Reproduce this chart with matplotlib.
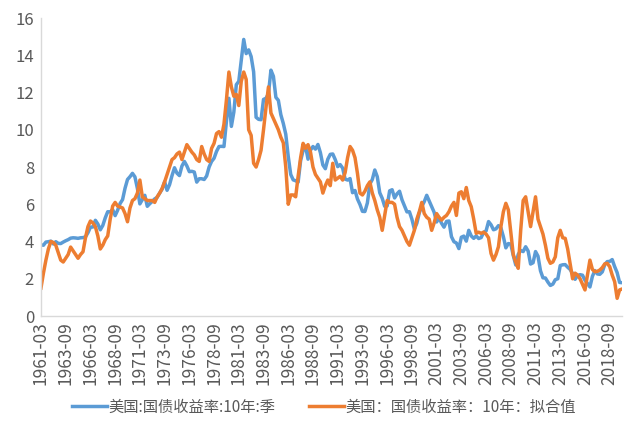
import numpy as np
import matplotlib
matplotlib.use("Agg")
import matplotlib.pyplot as plt

plt.rcParams['font.family'] = ['Noto Sans CJK SC', 'DejaVu Sans']

# quarterly, 1961-03 .. 2019-12
actual = [
    3.82, 3.80, 3.97, 3.99, 4.02, 3.87, 3.99, 3.90, 3.89, 3.97, 4.04, 4.10,
    4.18, 4.20, 4.19, 4.17, 4.20, 4.21, 4.25, 4.47, 4.77, 4.78, 5.14, 4.94,
    4.63, 4.86, 5.27, 5.60, 5.59, 5.71, 5.39, 5.68, 6.04, 6.25, 6.86, 7.33,
    7.48, 7.66, 7.47, 6.85, 6.02, 6.25, 6.48, 5.89, 6.03, 6.15, 6.29, 6.37,
    6.60, 6.81, 7.21, 6.75, 7.05, 7.54, 7.96, 7.67, 7.54, 8.05, 8.30, 8.06,
    7.75, 7.77, 7.73, 7.19, 7.37, 7.37, 7.33, 7.52, 8.00, 8.30, 8.47, 8.84,
    9.10, 9.11, 9.10, 10.45, 11.69, 10.18, 10.95, 12.42, 12.60, 13.75, 14.85, 14.09,
    14.29, 13.93, 13.11, 10.67, 10.56, 10.54, 11.63, 11.69, 11.94, 13.20, 12.87, 11.74,
    11.58, 10.81, 10.34, 9.76, 8.56, 7.60, 7.31, 7.26, 7.19, 8.34, 8.88, 9.12,
    8.42, 8.91, 9.10, 8.96, 9.21, 8.77, 8.11, 7.91, 8.42, 8.68, 8.70, 8.40,
    8.02, 8.13, 7.94, 7.35, 7.30, 7.38, 6.62, 6.74, 6.28, 5.99, 5.62, 5.61,
    6.07, 7.08, 7.33, 7.84, 7.48, 6.62, 6.32, 5.89, 5.91, 6.72, 6.78, 6.34,
    6.56, 6.70, 6.24, 5.91, 5.59, 5.60, 5.20, 4.67, 4.98, 5.54, 5.88, 6.14,
    6.48, 6.18, 5.89, 5.57, 5.05, 5.27, 4.98, 4.77, 5.08, 5.10, 4.26, 3.99,
    3.92, 3.62, 4.23, 4.29, 4.02, 4.60, 4.30, 4.17, 4.30, 4.16, 4.21, 4.49,
    4.57, 5.07, 4.90, 4.63, 4.68, 4.85, 4.73, 4.26, 3.66, 3.89, 3.86, 3.25,
    2.74, 3.31, 3.52, 3.46, 3.72, 3.49, 2.79, 2.86, 3.46, 3.21, 2.43, 2.05,
    2.04, 1.82, 1.64, 1.71, 1.95, 2.00, 2.71, 2.75, 2.76, 2.62, 2.50, 2.28,
    1.97, 2.17, 2.22, 2.19, 1.92, 1.75, 1.56, 2.13, 2.44, 2.26, 2.24, 2.37,
    2.76, 2.92, 2.93, 3.03, 2.65, 2.33, 1.80, 1.79,
]

fitted = [
    1.50, 2.30, 3.00, 3.60, 4.00, 3.95, 3.80, 3.40, 3.00, 2.90, 3.10, 3.30,
    3.70, 3.50, 3.30, 3.10, 3.30, 3.45, 4.20, 4.80, 5.10, 5.00, 4.80, 4.30,
    3.60, 3.80, 4.10, 4.30, 5.20, 5.90, 6.10, 5.90, 5.85, 5.80, 5.50, 5.06,
    5.80, 6.20, 6.30, 6.60, 7.30, 6.40, 6.30, 6.20, 6.20, 6.20, 6.10, 6.40,
    6.60, 6.85, 7.20, 7.60, 8.00, 8.40, 8.50, 8.70, 8.80, 8.40, 8.80, 9.20,
    9.00, 8.80, 8.65, 8.40, 8.30, 9.10, 8.70, 8.40, 8.30, 9.00, 9.27, 9.80,
    9.90, 9.60, 10.30, 11.60, 13.10, 12.30, 11.80, 11.90, 11.30, 12.60, 13.10, 12.70,
    10.00, 9.70, 8.20, 8.00, 8.40, 8.90, 10.00, 11.20, 12.30, 10.90, 10.60, 10.30,
    10.00, 9.60, 9.30, 8.00, 6.00, 6.50, 6.50, 6.40, 7.50, 8.50, 9.27, 9.00,
    9.20, 8.80, 8.00, 7.60, 7.40, 7.20, 6.60, 7.00, 7.30, 7.00, 8.20, 7.30,
    7.40, 7.50, 7.30, 7.70, 8.50, 9.10, 8.90, 8.50, 7.65, 6.60, 6.50, 6.70,
    7.00, 7.20, 6.60, 6.20, 5.70, 5.30, 4.60, 5.40, 6.20, 6.10, 6.10, 6.00,
    5.30, 4.80, 4.60, 4.30, 4.00, 3.80, 4.20, 4.60, 5.20, 5.60, 6.10, 5.50,
    5.30, 5.20, 4.60, 5.00, 5.50, 5.30, 5.15, 5.30, 5.40, 5.60, 5.90, 6.10,
    5.40, 6.60, 6.67, 6.30, 6.90, 6.20, 5.87, 5.20, 4.44, 4.50, 4.44, 4.50,
    4.40, 4.20, 3.36, 3.00, 3.30, 3.72, 4.80, 5.60, 6.05, 5.70, 4.50, 3.30,
    2.90, 2.56, 4.60, 6.20, 6.40, 5.60, 4.80, 5.60, 6.40, 5.20, 4.80, 4.40,
    3.80, 3.10, 2.83, 2.90, 3.18, 4.20, 4.60, 4.20, 4.17, 3.60, 2.80, 2.00,
    2.30, 2.20, 2.00, 1.70, 1.40, 2.20, 3.00, 2.50, 2.38, 2.40, 2.47, 2.60,
    2.80, 2.83, 2.65, 2.20, 1.84, 0.95, 1.40, 1.45,
]

tick_labels = [
    '1961-03', '1963-09', '1966-03', '1968-09', '1971-03', '1973-09',
    '1976-03', '1978-09', '1981-03', '1983-09', '1986-03', '1988-09',
    '1991-03', '1993-09', '1996-03', '1998-09', '2001-03', '2003-09',
    '2006-03', '2008-09', '2011-03', '2013-09', '2016-03', '2018-09',
]

labels = ['美国:国债收益率:10年:季', '美国：国债收益率：10年：拟合值']

x = np.arange(len(actual))

fig = plt.figure(figsize=(6.4, 4.32), dpi=100)
ax = fig.add_axes([0.064, 0.2685, 0.908, 0.6898])

ax.plot(x, actual, color='#5B9BD5', lw=2.5, label=labels[0], solid_joinstyle='round')
ax.plot(x, fitted, color='#ED7D31', lw=2.5, label=labels[1], solid_joinstyle='round')

ax.set_xlim(0, len(actual) - 1)
ax.set_ylim(0, 16)
ax.set_yticks(range(0, 17, 2))
ax.set_xticks(range(0, len(actual), 10))
ax.set_xticklabels(tick_labels, rotation=90)

for s in ['top', 'right']:
    ax.spines[s].set_visible(False)
for s in ['left', 'bottom']:
    ax.spines[s].set_color('#D9D9D9')
    ax.spines[s].set_linewidth(1.0)
ax.tick_params(axis='both', length=0, colors='#595959')
ax.tick_params(axis='y', pad=5, labelsize=12)
ax.tick_params(axis='x', pad=4, labelsize=12.5)

fig.legend(loc='center', bbox_to_anchor=(0.506, 0.058), ncol=2, frameon=False,
           fontsize=11, handlelength=2.3, handletextpad=0.1, columnspacing=2.2,
           labelcolor='#595959')

fig.savefig('out.png', dpi=100)
